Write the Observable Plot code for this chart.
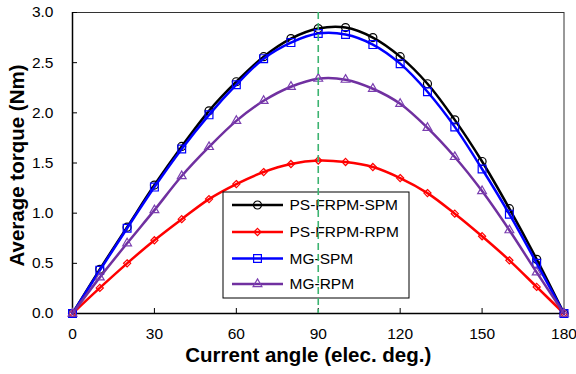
<!DOCTYPE html>
<html>
<head>
<meta charset="utf-8">
<script src="https://cdn.jsdelivr.net/npm/d3@7"></script>
<script src="https://cdn.jsdelivr.net/npm/@observablehq/plot@0.6"></script>
<style>
  html, body { margin: 0; padding: 0; background: #fff; }
  #chart { width: 576px; height: 374px; }
</style>
</head>
<body>
<div id="chart"></div>
<script>
// ---- data ----
const angles = [0, 10, 20, 30, 40, 50, 60, 70, 80, 90, 100, 110, 120, 130, 140, 150, 160, 170, 180];
const psFrpmSpm = [0, 0.44, 0.86, 1.28, 1.665, 2.02, 2.31, 2.56, 2.74, 2.84, 2.85, 2.75, 2.56, 2.29, 1.93, 1.515, 1.045, 0.54, 0];
const psFrpmRpm = [0, 0.255, 0.50, 0.73, 0.94, 1.14, 1.29, 1.41, 1.49, 1.525, 1.51, 1.46, 1.35, 1.20, 0.995, 0.77, 0.53, 0.265, 0];
const mgSpm = [0, 0.43, 0.85, 1.26, 1.64, 1.98, 2.28, 2.54, 2.70, 2.79, 2.78, 2.68, 2.49, 2.21, 1.86, 1.44, 0.99, 0.50, 0];
const mgRpm = [0, 0.36, 0.70, 1.03, 1.37, 1.66, 1.92, 2.12, 2.26, 2.34, 2.33, 2.24, 2.09, 1.85, 1.56, 1.22, 0.83, 0.41, 0];
const seriesNames = ["PS-FRPM-SPM", "PS-FRPM-RPM", "MG-SPM", "MG-RPM"];
const xTicks = [0, 30, 60, 90, 120, 150, 180];
const yTicks = [0, 0.5, 1.0, 1.5, 2.0, 2.5, 3.0];
const refAngle = [90];
const xTitle = "Current angle (elec. deg.)";
const yTitle = "Average torque (Nm)";

// ---- styles ----
const styles = [
  {color: "#000000", mark: "#000000", symbol: "circle", r: 4},
  {color: "#ff0000", mark: "#ff0000", symbol: "diamond2", r: 3.2},
  {color: "#0000ff", mark: "#0000ff", symbol: "square", r: 4.4},
  {color: "#7030a0", mark: "#7b3fb0", symbol: "triangle2", r: 4.2}
];
const valuesBySeries = [psFrpmSpm, psFrpmRpm, mgSpm, mgRpm];
const rows = seriesNames.map((name, i) => angles.map((a, j) => ({series: name, angle: a, torque: valuesBySeries[i][j]})));

const W = 576, H = 374;
const mL = 72, mR = 12.5, mT = 12, mB = 61;
const plotW = W - mL - mR, plotH = H - mT - mB;
const font = "'Liberation Sans', Arial, Helvetica, sans-serif";

const marks = [
  Plot.frame({stroke: "#333", strokeWidth: 1}),
  Plot.ruleX(xTicks, {x: d => d, insetTop: plotH - 5, stroke: "#000", strokeWidth: 1}),
  Plot.ruleY(yTicks, {y: d => d, insetRight: plotW - 5, stroke: "#000", strokeWidth: 1}),
  Plot.ruleY([0], {stroke: "#000", strokeWidth: 1.5}),
  Plot.ruleX([0], {stroke: "#000", strokeWidth: 1.5}),
  Plot.axisX(xTicks, {tickSize: 0, tickPadding: 14, fontSize: 15.5, label: null, fill: "#000"}),
  Plot.axisY(yTicks, {tickSize: 0, tickPadding: 19, fontSize: 15.5, label: null, fill: "#000", tickFormat: d => d.toFixed(1)}),
  Plot.text([xTitle], {frameAnchor: "bottom", lineAnchor: "middle", textAnchor: "middle", dy: 42, dx: -10, fontSize: 20.5, fontWeight: "bold", fill: "#000"}),
  Plot.text([yTitle], {frameAnchor: "left", lineAnchor: "middle", textAnchor: "middle", dx: -55.5, dy: 2.5, rotate: -90, fontSize: 20.5, fontWeight: "bold", fill: "#000"})
];
rows.forEach((data, i) => {
  const s = styles[i];
  marks.push(Plot.line(data, {x: "angle", y: "torque", stroke: s.color, strokeWidth: 2.5, curve: "catmull-rom"}));
  marks.push(Plot.dot(data, {x: "angle", y: "torque", stroke: s.mark, fill: "none", strokeWidth: 1.2, symbol: s.symbol, r: s.r}));
});
marks.push(Plot.ruleX(refAngle, {x: d => d, stroke: "#3cb371", strokeWidth: 1.6, strokeDasharray: "7,4"}));

const chart = Plot.plot({
  width: W, height: H,
  marginLeft: mL, marginRight: mR, marginTop: mT, marginBottom: mB,
  style: {fontFamily: font, color: "#000", background: "#fff", overflow: "visible"},
  x: {domain: [0, 180], axis: null},
  y: {domain: [0, 3], axis: null},
  marks
});
document.getElementById("chart").appendChild(chart);

// ---- legend (inside plot area) ----
const svg = d3.select(chart);
const lg = svg.append("g").attr("class", "legend");
const box = {x: 223, y: 192, w: 186, h: 106};
lg.append("rect").attr("x", box.x).attr("y", box.y).attr("width", box.w).attr("height", box.h)
  .attr("fill", "#fff").attr("stroke", "#000").attr("stroke-width", 1);
const symMap = {circle: d3.symbolCircle, diamond2: d3.symbolDiamond2, square: d3.symbolSquare, triangle2: d3.symbolTriangle2};
const rowY = [205, 232, 258.5, 284];
seriesNames.forEach((name, i) => {
  const s = styles[i];
  const y = rowY[i];
  lg.append("line").attr("x1", 232).attr("x2", 283).attr("y1", y).attr("y2", y)
    .attr("stroke", s.color).attr("stroke-width", 2.5);
  lg.append("path").attr("d", d3.symbol(symMap[s.symbol], Math.PI * s.r * s.r)())
    .attr("transform", `translate(257.5,${y})`).attr("fill", "none").attr("stroke", s.mark).attr("stroke-width", 1.2);
  lg.append("text").attr("x", 289.5).attr("y", y).attr("dy", "0.35em").attr("text-anchor", "start")
    .attr("font-size", 15.5).attr("font-family", font).attr("fill", "#000").text(name);
});
// reference line drawn over the legend
svg.selectAll("g").filter(function () { return this.getAttribute("stroke") === "#3cb371"; }).raise();
</script>
</body>
</html>
